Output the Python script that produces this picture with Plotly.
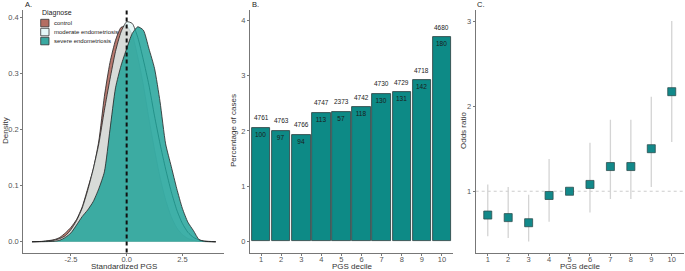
import plotly.graph_objects as go

W, H = 685, 271

# ---------------- Panel A data (density curves) -------------
pgs_x = [-4.25, -3.75, -3.25, -3.0, -2.75, -2.5, -2.25, -2.0, -1.75, -1.5, -1.25, -1.0,
         -0.75, -0.5, -0.25, 0.0, 0.25, 0.5, 0.75, 1.0, 1.25, 1.5, 1.75, 2.0, 2.25,
         2.5, 2.75, 3.0, 3.25, 3.5, 4.0]
dens_control = [0.0002, 0.001, 0.004, 0.008, 0.016, 0.026, 0.040, 0.062, 0.095, 0.130, 0.180,
                0.260, 0.320, 0.360, 0.383, 0.385, 0.370, 0.330, 0.280, 0.220, 0.165, 0.115,
                0.075, 0.045, 0.025, 0.013, 0.006, 0.003, 0.001, 0.0005, 0.0001]
dens_moderate = [0.0002, 0.0008, 0.003, 0.006, 0.011, 0.022, 0.038, 0.060, 0.092, 0.130, 0.175,
                 0.235, 0.290, 0.340, 0.375, 0.393, 0.390, 0.365, 0.325, 0.280, 0.225, 0.175,
                 0.130, 0.090, 0.057, 0.033, 0.017, 0.008, 0.0035, 0.0015, 0.0002]
dens_severe = [0.0001, 0.0003, 0.001, 0.003, 0.008, 0.016, 0.030, 0.045, 0.057, 0.072, 0.095,
               0.125, 0.200, 0.275, 0.315, 0.345, 0.372, 0.384, 0.378, 0.345, 0.310, 0.250,
               0.175, 0.135, 0.095, 0.060, 0.035, 0.020, 0.004, 0.001, 0.0002]
group_names = ["control", "moderate endometriosis", "severe endometriosis"]

# ---------------- Panel B data ----------------
deciles = [1, 2, 3, 4, 5, 6, 7, 8, 9, 10]
pct_cases = [2.06, 2.00, 1.93, 2.33, 2.35, 2.43, 2.67, 2.70, 2.92, 3.70]
n_controls = [4761, 4763, 4766, 4747, 2373, 4742, 4730, 4729, 4718, 4680]
n_cases = [100, 97, 94, 113, 57, 118, 130, 131, 142, 180]

# ---------------- Panel C data ----------------
odds_ratio = [0.72, 0.69, 0.63, 0.95, 1.00, 1.08, 1.29, 1.29, 1.50, 2.17]
or_low = [0.47, 0.45, 0.41, 0.64, 1.00, 0.75, 0.91, 0.91, 1.05, 1.58]
or_high = [1.08, 1.05, 0.96, 1.38, 1.00, 1.57, 1.84, 1.84, 2.11, 3.00]

# ---------------- styling ----------------
FONT = "Liberation Sans, Arial, sans-serif"
col_control = "rgba(176,108,96,0.90)"
col_moderate = "rgba(226,246,246,0.78)"
col_severe = "rgba(26,160,150,0.82)"
bar_fill = "#0d8a86"
teal_pt = "#12898a"
axis_col = "#777777"
tick_font = dict(family=FONT, size=7.5, color="#555555")
title_font = dict(family=FONT, size=8, color="#333333")


def fx(px):
    return px / W


def fy(py):
    return 1 - py / H


fig = go.Figure()

# Panel A densities
for dens, col, name in [(dens_control, col_control, group_names[0]),
                        (dens_moderate, col_moderate, group_names[1]),
                        (dens_severe, col_severe, group_names[2])]:
    fig.add_trace(go.Scatter(x=pgs_x, y=dens, mode="lines", fill="tozeroy",
                             fillcolor=col, line=dict(color="#222222", width=0.8,
                                                      shape="spline", smoothing=0.6),
                             name=name, showlegend=False, xaxis="x", yaxis="y",
                             hoverinfo="skip"))

# Panel B bars
fig.add_trace(go.Bar(x=deciles, y=pct_cases, width=0.92, marker=dict(color=bar_fill,
                     line=dict(color="#2b3b3b", width=0.8)),
                     text=[str(v) for v in n_cases], textposition="inside",
                     insidetextanchor="end", textangle=0,
                     textfont=dict(family=FONT, size=6.5, color="#1a1a1a"),
                     showlegend=False, xaxis="x2", yaxis="y2", cliponaxis=False))

# Panel C
fig.add_trace(go.Scatter(x=deciles, y=odds_ratio, mode="markers",
                         marker=dict(symbol="square", size=8, color=teal_pt,
                                     line=dict(color="#2f4f4f", width=0.8)),
                         error_y=dict(type="data", symmetric=False,
                                      array=[h - o for h, o in zip(or_high, odds_ratio)],
                                      arrayminus=[o - l for o, l in zip(odds_ratio, or_low)],
                                      color="#d4d4d4", thickness=1.3, width=0),
                         showlegend=False, xaxis="x3", yaxis="y3"))

# domains (pixel based)
A_x = [fx(23.3), fx(224)]
B_x = [fx(250), fx(453)]
C_x = [fx(475.7), fx(684)]
Y_dom = [fy(252.5), fy(10)]

common = dict(showgrid=False, zeroline=False, showline=True, linecolor=axis_col,
              linewidth=1, ticks="outside", ticklen=2, tickcolor=axis_col,
              tickfont=tick_font, automargin=False)
xcommon = dict(common, ticklabelstandoff=-3)

fig.update_layout(
    width=W, height=H, margin=dict(l=0, r=0, t=0, b=0, autoexpand=False),
    paper_bgcolor="white", plot_bgcolor="white",
    font=dict(family=FONT),
    bargap=0,
    xaxis=dict(domain=A_x, anchor="y", range=[-4.64, 4.37], tickvals=[-2.5, 0, 2.5],
               ticktext=["-2.5", "0.0", "2.5"], **xcommon),
    yaxis=dict(domain=Y_dom, anchor="x", range=[-0.019, 0.414],
               tickvals=[0, 0.1, 0.2, 0.3, 0.4], ticktext=["0.0", "0.1", "0.2", "0.3", "0.4"],
               **common),
    xaxis2=dict(domain=B_x, anchor="y2", range=[0.45, 10.55], tickvals=deciles, **xcommon),
    yaxis2=dict(domain=Y_dom, anchor="x2", range=[-0.2, 4.19], tickvals=[0, 1, 2, 3, 4],
                **common),
    xaxis3=dict(domain=C_x, anchor="y3", range=[0.41, 10.6], tickvals=deciles, **xcommon),
    yaxis3=dict(domain=Y_dom, anchor="x3", range=[0.28, 3.13], tickvals=[1, 2, 3],
                **common),
)

shapes = []
# vertical dashed line at 0 in panel A
shapes.append(dict(type="line", xref="x", yref="paper", x0=0, x1=0, y0=Y_dom[0], y1=Y_dom[1],
                   line=dict(color="#111111", width=2, dash="4px,3px"), layer="above"))
# horizontal dashed reference at OR = 1
shapes.append(dict(type="line", xref="paper", yref="y3", x0=C_x[0], x1=C_x[1], y0=1, y1=1,
                   line=dict(color="#cccccc", width=1, dash="3px,3px"), layer="below"))

# legend (manual)
legend_items = [(group_names[0], "#b46e62", 19.3), (group_names[1], "#e6f8f8", 28.3),
                (group_names[2], "#3aa9a1", 37.3)]
annotations = [dict(text="Diagnose", xref="paper", yref="paper", x=fx(39.5), y=fy(12.7),
                    xanchor="left", yanchor="middle", showarrow=False,
                    font=dict(family=FONT, size=7, color="#222222"))]
for name, col, top in legend_items:
    shapes.append(dict(type="rect", xref="paper", yref="paper", x0=fx(40.7), x1=fx(49),
                       y0=fy(top + 7.5), y1=fy(top), fillcolor=col,
                       line=dict(color="#333333", width=0.8)))
    annotations.append(dict(text=name, xref="paper", yref="paper", x=fx(52.3),
                            y=fy(top + 3.8), xanchor="left", yanchor="middle",
                            showarrow=False, font=dict(family=FONT, size=6, color="#222222")))

# panel letters
for letter, px in [("A.", 23), ("B.", 250), ("C.", 475)]:
    annotations.append(dict(text=letter, xref="paper", yref="paper", x=fx(px), y=fy(4),
                            xanchor="left", yanchor="middle", showarrow=False,
                            font=dict(family=FONT, size=7.5, color="#222222")))

# axis titles
for text, x, y, ang in [("Standardized PGS", 124, 266.8, 0), ("PGS decile", 352, 266.8, 0),
                        ("PGS decile", 580, 266.8, 0), ("Density", 5, 131, -90),
                        ("Percentage of cases", 233, 131, -90), ("Odds ratio", 463, 131, -90)]:
    annotations.append(dict(text=text, xref="paper", yref="paper", x=fx(x), y=fy(y),
                            xanchor="center", yanchor="middle", showarrow=False, textangle=ang,
                            font=title_font))

# control counts above bars
for d, p, n in zip(deciles, pct_cases, n_controls):
    annotations.append(dict(text=str(n), xref="x2", yref="y2", x=d, y=p, yshift=10,
                            xanchor="center", yanchor="middle", showarrow=False,
                            font=dict(family=FONT, size=6.5, color="#222222")))

fig.update_layout(shapes=shapes, annotations=annotations)

fig.write_html("out.html", config={"displayModeBar": False},
               post_script="document.body.style.margin='0';document.body.style.overflow='hidden';")
